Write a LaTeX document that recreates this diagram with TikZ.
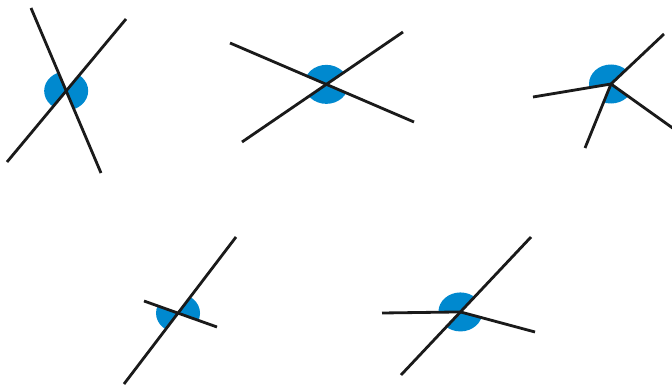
\documentclass[tikz,border=0pt]{standalone}
\usetikzlibrary{calc}
\usepackage{xcolor}
\definecolor{angleblue}{HTML}{0089CF}
\definecolor{lineblack}{HTML}{1A1A1A}

% fill the part of the small ellipse round #1 that lies between the rays to #2 and #3
\newcommand{\anglefill}[3]{%
  \begin{scope}
    \clip (#1) -- ($(#1)!4!(#2)$) -- ($(#1)!4!(#3)$) -- cycle;
    \fill[angleblue] (#1) ellipse [x radius=22, y radius=19.5];
  \end{scope}}

\begin{document}
\begin{tikzpicture}[x=0.02cm, y=-0.02cm, line width=1.6pt,
    leg/.style={draw=lineblack}]
  \useasboundingbox (0,0) rectangle (672,385);

  % first pair: two crossing lines
  \coordinate (a1) at (31,8);   \coordinate (a2) at (101,173);
  \coordinate (b1) at (7,162);  \coordinate (b2) at (126,19);
  \coordinate (c1) at (intersection of a1--a2 and b1--b2);

  % second pair
  \coordinate (d1) at (230,43);  \coordinate (d2) at (414,122);
  \coordinate (e1) at (242,142); \coordinate (e2) at (403,32);
  \coordinate (c2) at (intersection of d1--d2 and e1--e2);

  % four rays
  \coordinate (c3) at (611,84);
  \coordinate (r1) at (664,34);  \coordinate (r2) at (533,97);
  \coordinate (r3) at (585,148); \coordinate (r4) at (674,129);

  % long line, short line
  \coordinate (f1) at (236,237); \coordinate (f2) at (124,384);
  \coordinate (g1) at (144,301); \coordinate (g2) at (217,327);
  \coordinate (c4) at (intersection of f1--f2 and g1--g2);

  % long line and two rays
  \coordinate (h1) at (531,237); \coordinate (h2) at (401,375);
  \coordinate (c5) at ($(h1)!0.543!(h2)$);
  \coordinate (s1) at (382,313); \coordinate (s2) at (535,332);

  \anglefill{c1}{a1}{b1}
  \anglefill{c1}{b2}{a2}
  \anglefill{c2}{d1}{e2}
  \anglefill{c2}{e1}{d2}
  \anglefill{c3}{r2}{r1}
  \anglefill{c3}{r3}{r4}
  \anglefill{c4}{g1}{f2}
  \anglefill{c4}{f1}{g2}
  \anglefill{c5}{s1}{h1}
  \anglefill{c5}{h2}{s2}

  \draw[leg] (a1) -- (a2);
  \draw[leg] (b1) -- (b2);
  \draw[leg] (d1) -- (d2);
  \draw[leg] (e1) -- (e2);
  \draw[leg] (c3) -- (r1);
  \draw[leg] (c3) -- (r2);
  \draw[leg] (c3) -- (r3);
  \draw[leg] (c3) -- (r4);
  \draw[leg] (f1) -- (f2);
  \draw[leg] (g1) -- (g2);
  \draw[leg] (h1) -- (h2);
  \draw[leg] (c5) -- (s1);
  \draw[leg] (c5) -- (s2);
\end{tikzpicture}
\end{document}
